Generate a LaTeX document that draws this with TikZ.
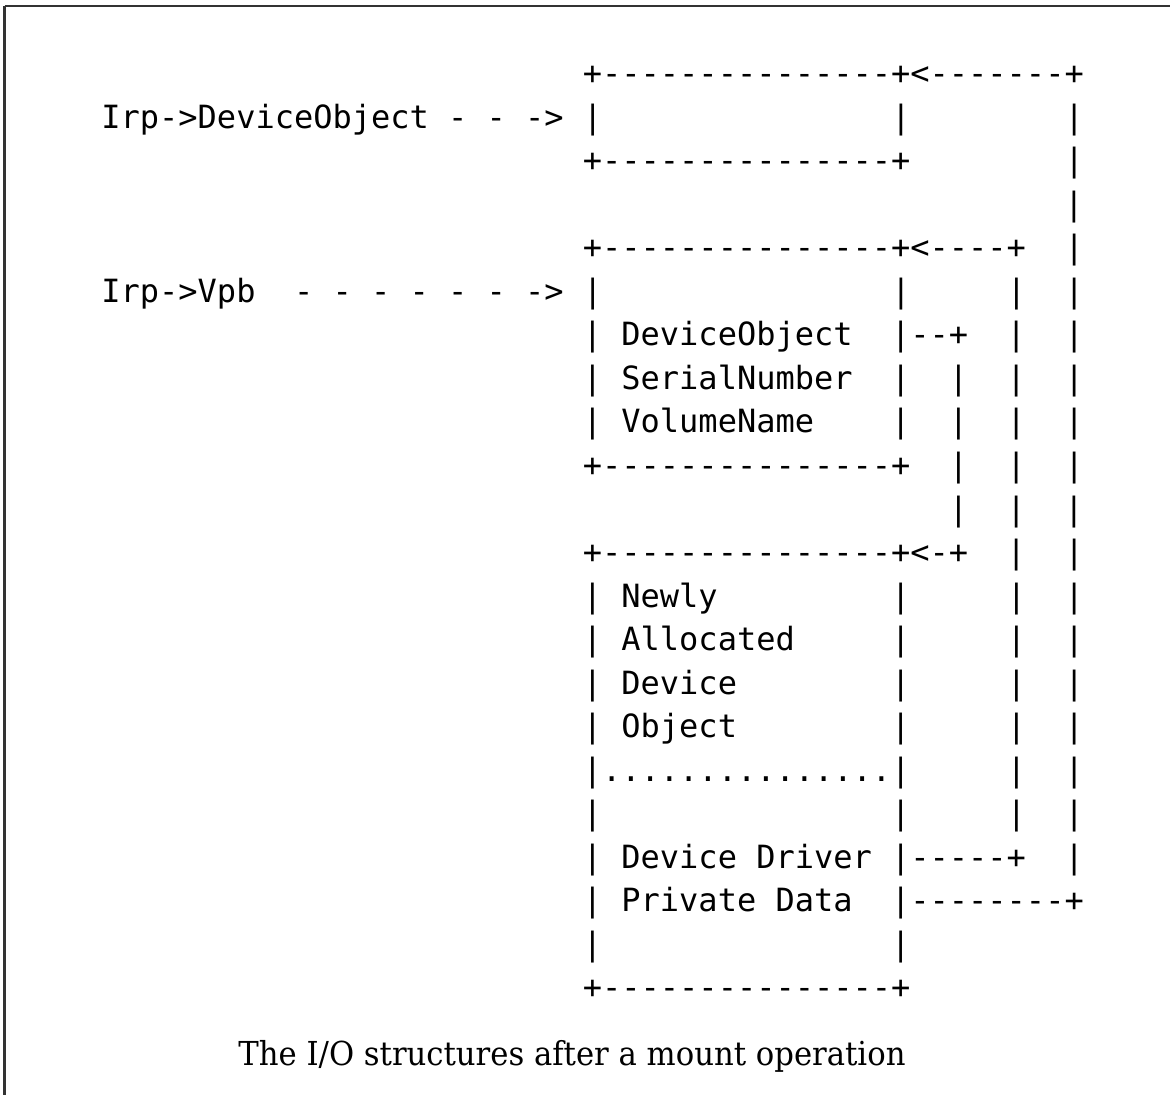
\documentclass[tikz,border=0pt]{standalone}
\usepackage{fontspec}
\setmonofont{DejaVu Sans Mono}
\newfontfamily\capfont{DejaVu Serif}[FakeStretch=0.93]
\usetikzlibrary{positioning}
\newcommand\leaderdots{...............}

\begin{document}
\begin{tikzpicture}[x=0.5pt,y=-0.5pt]
    \tikzstyle{ascii}=[anchor=base west,inner sep=0pt,font=\ttfamily\fontsize{16}{19}\selectfont]
    \useasboundingbox (0,0) rectangle (1170,1095);
    % frame, open at right and bottom
    \coordinate (corner) at (4.5,6);
    \draw[line width=1.2pt,black!80] (corner) -- (1170,6);
    \draw[line width=1.2pt,black!80] (corner) -- (4.5,1095);
    % one node per line of the sketch: start column / text
    \foreach \c/\txt [count=\i] in {
      25/+---------------+<-------+,
      0/Irp->DeviceObject~-~-~->~|~~~~~~~~~~~~~~~|~~~~~~~~|,
      25/+---------------+~~~~~~~~|,
      50/|,
      25/+---------------+<----+~~|,
      0/Irp->Vpb~~-~-~-~-~-~-~->~|~~~~~~~~~~~~~~~|~~~~~|~~|,
      25/|~DeviceObject~~|--+~~|~~|,
      25/|~SerialNumber~~|~~|~~|~~|,
      25/|~VolumeName~~~~|~~|~~|~~|,
      25/+---------------+~~|~~|~~|,
      44/|~~|~~|,
      25/+---------------+<-+~~|~~|,
      25/|~Newly~~~~~~~~~|~~~~~|~~|,
      25/|~Allocated~~~~~|~~~~~|~~|,
      25/|~Device~~~~~~~~|~~~~~|~~|,
      25/|~Object~~~~~~~~|~~~~~|~~|,
      25/|\leaderdots|~~~~~|~~|,
      25/|~~~~~~~~~~~~~~~|~~~~~|~~|,
      25/|~Device~Driver~|-----+~~|,
      25/|~Private~Data~~|--------+,
      25/|~~~~~~~~~~~~~~~|,
      25/+---------------+}
      \node[ascii] (row\i) at ({101+\c*19.26},{85+(\i-1)*43.5}) {\txt};
    \node[anchor=base west,inner sep=0pt,font=\capfont\fontsize{16.5}{20}\selectfont] (caption) at (238,1065) {The I/O structures after a mount operation};
\end{tikzpicture}
\end{document}
